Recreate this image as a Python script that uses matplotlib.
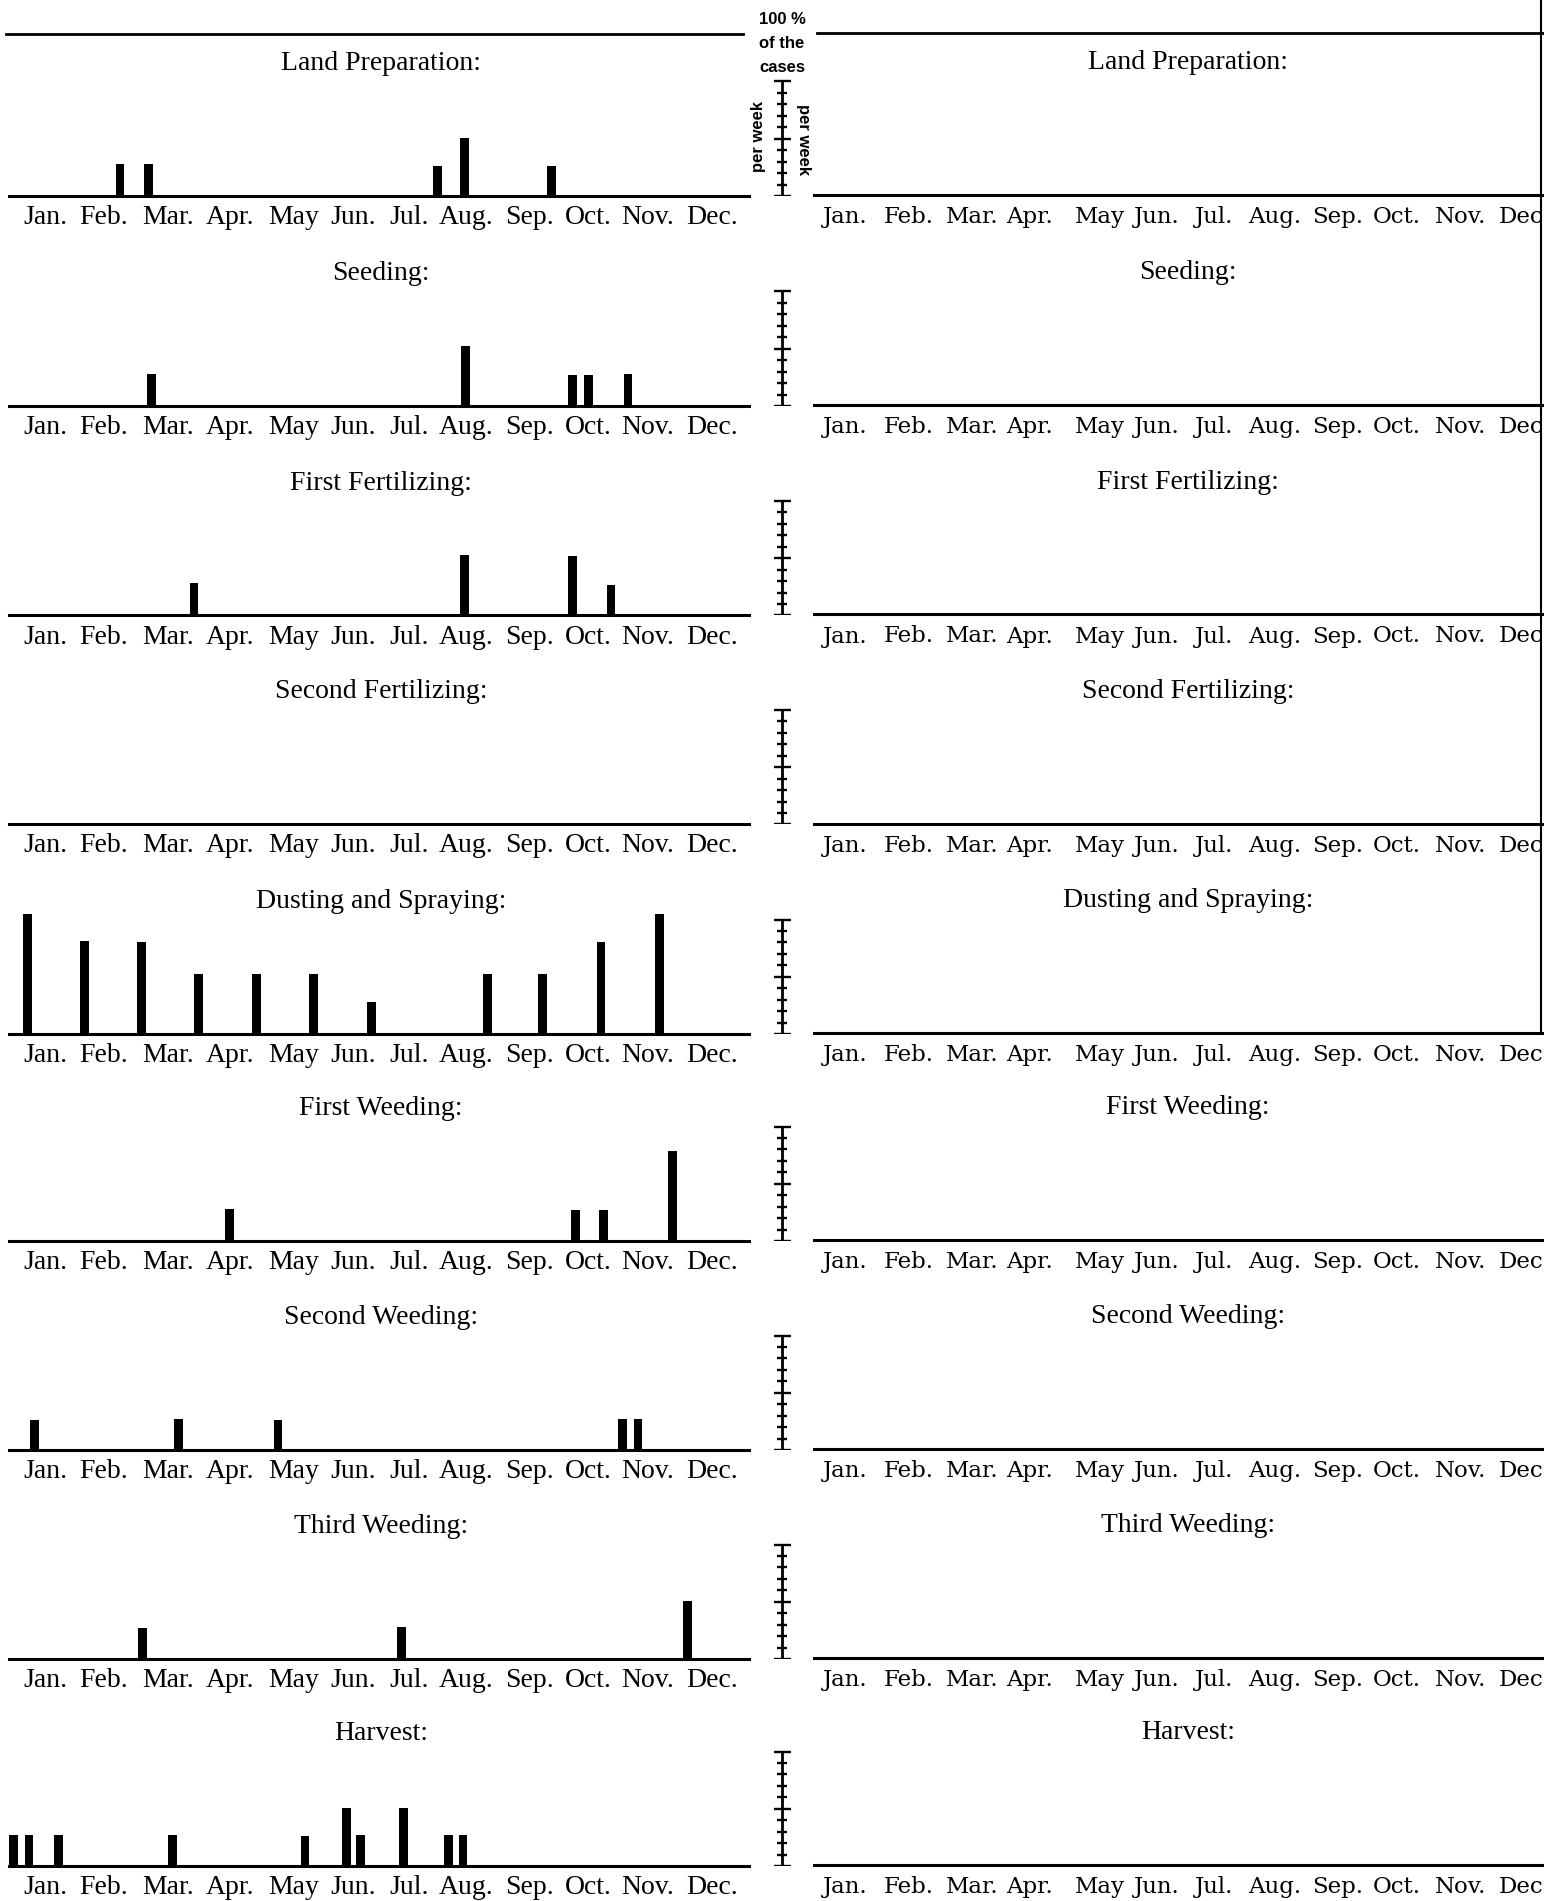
import matplotlib
matplotlib.use("Agg")
import matplotlib.pyplot as plt
from matplotlib import font_manager
from matplotlib.transforms import offset_copy

W, H = 1544, 1901
DPI = 100

months = ["Jan.", "Feb.", "Mar.", "Apr.", "May", "Jun.", "Jul.", "Aug.", "Sep.", "Oct.", "Nov.", "Dec."]
months_right = ["Jan.", "Feb.", "Mar.", "Apr.", "May", "Jun.", "Jul.", "Aug.", "Sep.", "Oct.", "Nov.", "Dec"]

operations = [
    "Land Preparation:",
    "Seeding:",
    "First Fertilizing:",
    "Second Fertilizing:",
    "Dusting and Spraying:",
    "First Weeding:",
    "Second Weeding:",
    "Third Weeding:",
    "Harvest:",
]

# bars: week of the year (from 1 Jan) and % of the cases in that week
land_prep_weeks = [7.8, 9.8, 30.1, 32.0, 38.1]
land_prep_pct = [28, 28, 26, 51, 26]

seeding_weeks = [10.0, 32.1, 39.6, 40.7, 43.5]
seeding_pct = [28, 52, 27, 27, 28]

first_fert_weeks = [13.0, 32.0, 39.6, 42.3]
first_fert_pct = [28, 53, 52, 27]

second_fert_weeks = []
second_fert_pct = []

dusting_weeks = [1.3, 5.3, 9.3, 13.3, 17.4, 21.4, 25.5, 33.6, 37.5, 41.6, 45.7]
dusting_pct = [105, 81, 80, 52, 52, 52, 28, 52, 52, 80, 105]

first_weed_weeks = [15.5, 39.8, 41.8, 46.6]
first_weed_pct = [28, 27, 27, 79]

second_weed_weeks = [1.8, 11.9, 18.9, 43.1, 44.2]
second_weed_pct = [26, 27, 26, 27, 27]

third_weed_weeks = [9.4, 27.6, 47.7]
third_weed_pct = [27, 28, 51]

harvest_weeks = [0.3, 1.4, 3.5, 11.5, 20.8, 23.7, 24.7, 27.7, 30.9, 31.9]
harvest_pct = [27, 27, 27, 27, 26, 51, 27, 51, 27, 27]

all_weeks = [land_prep_weeks, seeding_weeks, first_fert_weeks, second_fert_weeks, dusting_weeks,
             first_weed_weeks, second_weed_weeks, third_weed_weeks, harvest_weeks]
all_pct = [land_prep_pct, seeding_pct, first_fert_pct, second_fert_pct, dusting_pct,
           first_weed_pct, second_weed_pct, third_weed_pct, harvest_pct]

# layout (pixels)
baselines = [196, 406, 615.5, 824.5, 1034, 1241, 1450, 1659, 1866]
left_x0, left_x1 = 9, 749
right_x0, right_x1 = 814, 1542
scale_x = 782
px_per_100 = 114.5
ax_h = 145
ymax = ax_h / px_per_100 * 100
left_label_weeks = [2.56, 6.65, 11.17, 15.5, 20.0, 24.2, 28.1, 32.1, 36.6, 40.7, 44.9, 49.4]
right_label_weeks = [2.25, 6.76, 11.3, 15.4, 20.4, 24.5, 28.6, 32.9, 37.4, 41.6, 46.2, 50.5]

names = {f.name for f in font_manager.fontManager.ttflist}
narrow = "Liberation Sans Narrow" if "Liberation Sans Narrow" in names else "Liberation Sans"
serif = "Liberation Serif"
serif_right = "DejaVu Serif"


def box(x0, x1, base, h):
    return [x0 / W, 1 - base / H, (x1 - x0) / W, h / H]


def fy(y):
    return 1 - y / H


fig = plt.figure(figsize=(W / DPI, H / DPI), dpi=DPI)
fig.patch.set_facecolor("white")

for i, title in enumerate(operations):
    base = baselines[i]
    for side in ("left", "right"):
        if side == "left":
            x0, x1, b = left_x0, left_x1, base
            lab_w, labs, fam, fs = left_label_weeks, months, serif, 20
        else:
            x0, x1, b = right_x0, right_x1, base - 1
            lab_w, labs, fam, fs = right_label_weeks, months_right, serif_right, 16.5
        ax = fig.add_axes(box(x0, x1, b, ax_h))
        ax.set_xlim(0, 52)
        ax.set_ylim(0, ymax)
        ax.axis("off")
        if side == "left":
            ax.bar(all_weeks[i], all_pct[i], width=0.62, color="black", align="center")
        ax.axhline(0, color="black", lw=2.2, clip_on=False)
        trans = offset_copy(ax.transData, fig=fig, x=0, y=-28, units="dots")
        for w, lab in zip(lab_w, labs):
            ax.text(w, 0, lab, transform=trans, ha="center", va="baseline",
                    fontsize=fs, family=fam, clip_on=False)
        tx = 381 if side == "left" else 1188
        fig.text(tx / W, fy(b - 126), title, ha="center", va="baseline", fontsize=20, family=serif)

    # scale bar: 0 - 100 % of the cases per week
    sax = fig.add_axes(box(scale_x - 12, scale_x + 12, base, ax_h))
    sax.set_xlim(-12, 12)
    sax.set_ylim(0, ymax)
    sax.axis("off")
    sax.vlines(0, 0, 100, color="black", lw=2)
    for k in range(11):
        half = 8.5 if k in (0, 5, 10) else 5
        sax.hlines(k * 10, -half, half, color="black", lw=1.7)

# top rules
fig.add_artist(plt.Line2D([6 / W, 743 / W], [fy(34), fy(34)], color="black", lw=2))
fig.add_artist(plt.Line2D([817 / W, 1544 / W], [fy(33), fy(33)], color="black", lw=2))
# right page border
fig.add_artist(plt.Line2D([1541 / W, 1541 / W], [fy(0), fy(1034)], color="black", lw=1.5))

# scale legend
fig.text(scale_x / W, fy(24), "100 %", ha="center", va="baseline", fontsize=12, family=narrow, weight="bold")
fig.text(scale_x / W, fy(48), "of the", ha="center", va="baseline", fontsize=12, family=narrow, weight="bold")
fig.text(scale_x / W, fy(72), "cases", ha="center", va="baseline", fontsize=12, family=narrow, weight="bold")
fig.text(758 / W, fy(137), "per week", ha="center", va="center", rotation=90, fontsize=12,
         family="Liberation Sans", weight="bold")
fig.text(804 / W, fy(139), "per week", ha="center", va="center", rotation=270, fontsize=12,
         family="Liberation Sans", weight="bold")

fig.savefig("out.png", dpi=DPI, facecolor="white")
